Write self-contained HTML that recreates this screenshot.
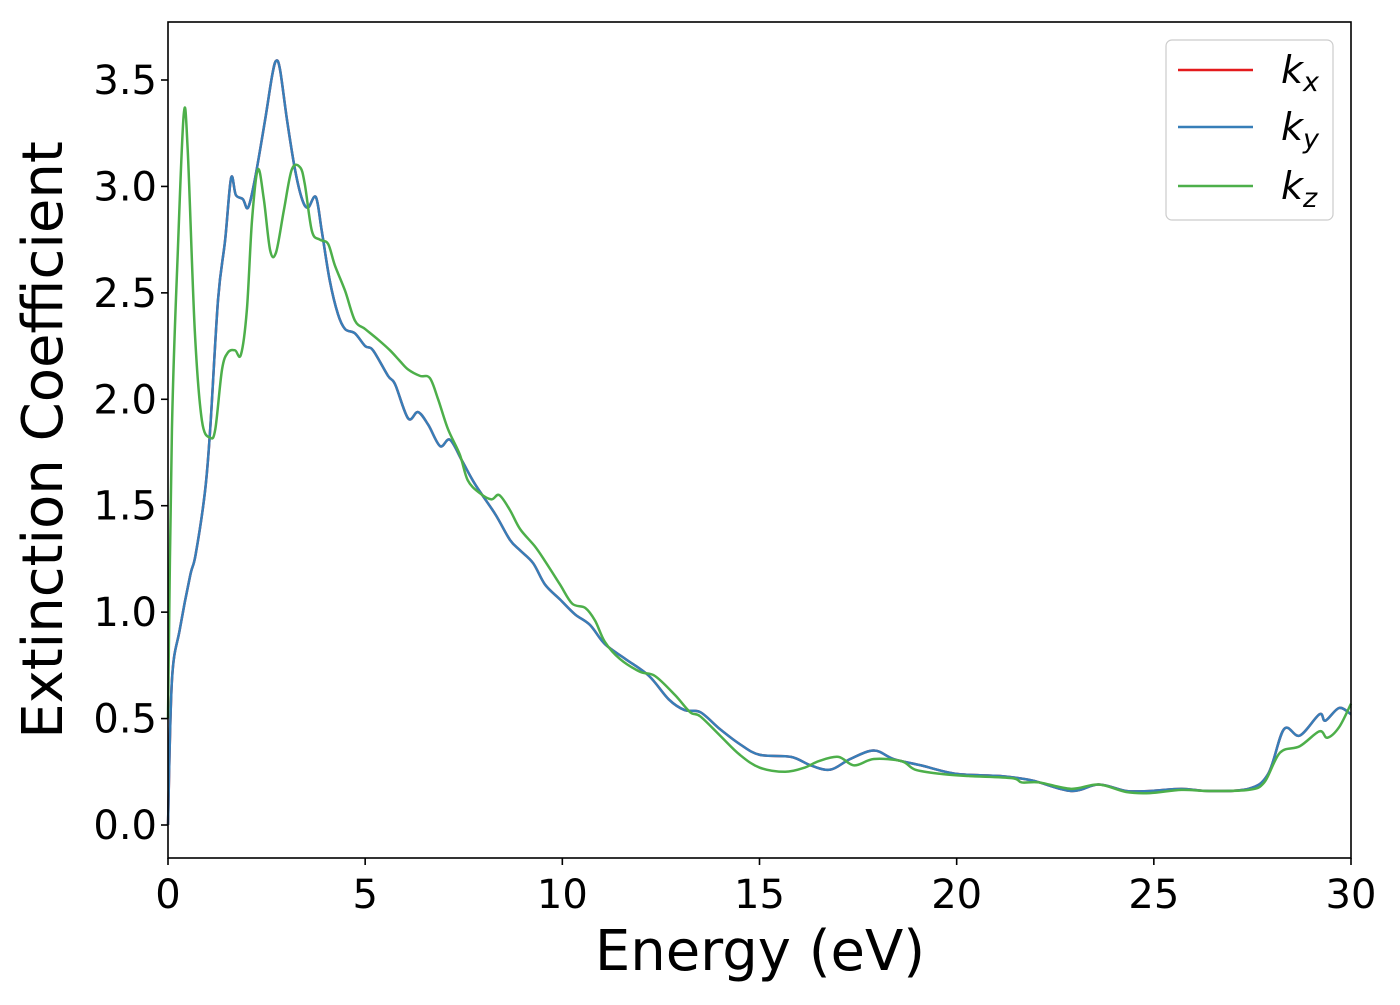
<!DOCTYPE html>
<html><head><meta charset="utf-8"><style>
body{margin:0;background:#fff}
svg text{font-family:"DejaVu Sans","Liberation Sans",sans-serif;fill:#000}
</style></head><body>
<svg id="chart" width="1400" height="1000" xmlns="http://www.w3.org/2000/svg">
<g id="plot"></g>
<rect x="168" y="22" width="1183" height="836" fill="none" stroke="#000" stroke-width="1.6"/>
<g id="axes"></g>
<text x="760" y="970" font-size="56" text-anchor="middle">Energy (eV)</text>
<text transform="translate(62,440) rotate(-90)" font-size="56" text-anchor="middle">Extinction Coefficient</text>
<g>
<rect x="1166" y="40" width="167" height="180" rx="6" fill="#fff" fill-opacity="0.8" stroke="#ccc" stroke-width="1.2"/>
<line x1="1178" y1="70" x2="1253" y2="70" stroke="#e41a1c" stroke-width="2.5"/>
<line x1="1178" y1="127" x2="1253" y2="127" stroke="#377eb8" stroke-width="2.5"/>
<line x1="1178" y1="186" x2="1253" y2="186" stroke="#4daf4a" stroke-width="2.5"/>
<text x="1281" y="83" font-size="38" font-style="italic">k<tspan font-size="27" dy="8">x</tspan></text>
<text x="1281" y="140" font-size="38" font-style="italic">k<tspan font-size="27" dy="8">y</tspan></text>
<text x="1281" y="199" font-size="38" font-style="italic">k<tspan font-size="27" dy="8">z</tspan></text>
</g>
</svg>
<script>
const xTicks=[0,5,10,15,20,25,30];
const yTicks=[0.0,0.5,1.0,1.5,2.0,2.5,3.0,3.5];
const yTickLabels=["0.0","0.5","1.0","1.5","2.0","2.5","3.0","3.5"];
const eXY=[0,0.1,0.3,0.56,0.7,0.94,1.07,1.27,1.45,1.6,1.72,1.9,2.03,2.2,2.46,2.64,2.74,2.84,3.02,3.22,3.4,3.55,3.75,3.9,4.1,4.31,4.49,4.74,5.0,5.2,5.58,5.76,6.09,6.34,6.6,6.9,7.15,7.46,7.79,8.3,8.67,8.93,9.26,9.56,9.94,10.32,10.7,11.08,11.6,12.2,12.7,13.1,13.5,14.0,14.5,15.0,15.8,16.3,16.8,17.3,17.9,18.4,19.1,20.0,21.1,21.9,22.9,23.6,24.3,24.9,25.7,26.4,27.4,27.9,28.3,28.7,29.2,29.35,29.7,30];
const kY=[0,0.68,0.92,1.17,1.27,1.57,1.86,2.47,2.75,3.04,2.96,2.94,2.9,3.03,3.31,3.52,3.59,3.55,3.31,3.08,2.94,2.9,2.95,2.79,2.56,2.4,2.33,2.31,2.25,2.23,2.11,2.07,1.91,1.94,1.88,1.78,1.81,1.71,1.6,1.46,1.34,1.29,1.23,1.13,1.06,0.99,0.94,0.85,0.78,0.7,0.59,0.54,0.53,0.45,0.38,0.33,0.32,0.28,0.26,0.31,0.35,0.31,0.28,0.24,0.23,0.21,0.16,0.19,0.16,0.16,0.17,0.16,0.17,0.24,0.45,0.42,0.52,0.49,0.55,0.52];
const kX=kY.slice();
const eZ=[0,0.1,0.25,0.4,0.5,0.68,0.86,1.07,1.2,1.37,1.52,1.7,1.85,2.0,2.13,2.28,2.43,2.59,2.74,2.94,3.14,3.35,3.47,3.65,3.85,4.06,4.23,4.49,4.74,5.0,5.33,5.63,5.88,6.09,6.39,6.64,6.85,7.1,7.4,7.6,7.9,8.2,8.4,8.67,8.93,9.3,9.56,9.94,10.25,10.58,10.83,11.08,11.46,11.97,12.35,12.86,13.24,13.5,14.0,14.5,15.0,15.65,16.15,16.5,17.0,17.4,17.9,18.6,18.95,19.6,20.3,21.4,21.65,22.1,22.9,23.6,24.3,24.9,25.7,26.4,27.4,27.8,28.2,28.7,29.2,29.4,29.7,30];
const kZ=[0.5,1.86,2.7,3.34,3.17,2.32,1.9,1.82,1.86,2.14,2.22,2.23,2.21,2.42,2.84,3.08,2.94,2.7,2.69,2.89,3.08,3.09,3.01,2.79,2.75,2.73,2.63,2.51,2.37,2.33,2.28,2.23,2.18,2.14,2.11,2.1,2.0,1.86,1.74,1.62,1.56,1.53,1.55,1.48,1.39,1.31,1.24,1.13,1.04,1.02,0.96,0.86,0.78,0.72,0.7,0.61,0.53,0.51,0.42,0.33,0.27,0.25,0.27,0.3,0.32,0.28,0.31,0.3,0.26,0.24,0.23,0.22,0.2,0.2,0.17,0.19,0.155,0.15,0.165,0.16,0.165,0.2,0.34,0.37,0.44,0.41,0.46,0.57];
const NS="http://www.w3.org/2000/svg";
const xS=v=>168+v*(1183/30);
const yS=v=>825-v*(745/3.5);
function path(xs,ys){
  const p=xs.map((x,i)=>[xS(x),yS(ys[i])]);
  let d="M"+p[0][0]+","+p[0][1];
  for(let i=0;i<p.length-1;i++){
    const p0=p[Math.max(i-1,0)],p1=p[i],p2=p[i+1],p3=p[Math.min(i+2,p.length-1)];
    const t=1/6;
    d+=` C${p1[0]+(p2[0]-p0[0])*t},${p1[1]+(p2[1]-p0[1])*t} ${p2[0]-(p3[0]-p1[0])*t},${p2[1]-(p3[1]-p1[1])*t} ${p2[0]},${p2[1]}`;
  }
  return d;
}
const plot=document.getElementById('plot');
[[eXY,kX,'#e41a1c','series-kx'],[eXY,kY,'#377eb8','series-ky'],[eZ,kZ,'#4daf4a','series-kz']].forEach(s=>{
  const el=document.createElementNS(NS,'path');
  el.setAttribute('d',path(s[0],s[1]));
  el.setAttribute('fill','none');el.setAttribute('stroke',s[2]);el.setAttribute('stroke-width','2.5');
  
  
  plot.appendChild(el);
});
const axes=document.getElementById('axes');
xTicks.forEach(v=>{
  const l=document.createElementNS(NS,'line');
  l.setAttribute('x1',xS(v));l.setAttribute('x2',xS(v));l.setAttribute('y1',858);l.setAttribute('y2',865);l.setAttribute('stroke','#000');l.setAttribute('stroke-width','1.6');
  
  
  axes.appendChild(l);
  const t=document.createElementNS(NS,'text');
  t.setAttribute('x',xS(v));t.setAttribute('y',908);t.setAttribute('font-size','40');t.setAttribute('text-anchor','middle');
  t.textContent=v;
  
  
  axes.appendChild(t);
});
yTicks.forEach((v,i)=>{
  const l=document.createElementNS(NS,'line');
  l.setAttribute('x1',161);l.setAttribute('x2',168);l.setAttribute('y1',yS(v));l.setAttribute('y2',yS(v));l.setAttribute('stroke','#000');l.setAttribute('stroke-width','1.6');
  
  
  axes.appendChild(l);
  const t=document.createElementNS(NS,'text');
  t.setAttribute('x',157);t.setAttribute('y',yS(v)+14);t.setAttribute('font-size','40');t.setAttribute('text-anchor','end');
  t.textContent=yTickLabels[i];
  
  
  axes.appendChild(t);
});
</script>
</body></html>
